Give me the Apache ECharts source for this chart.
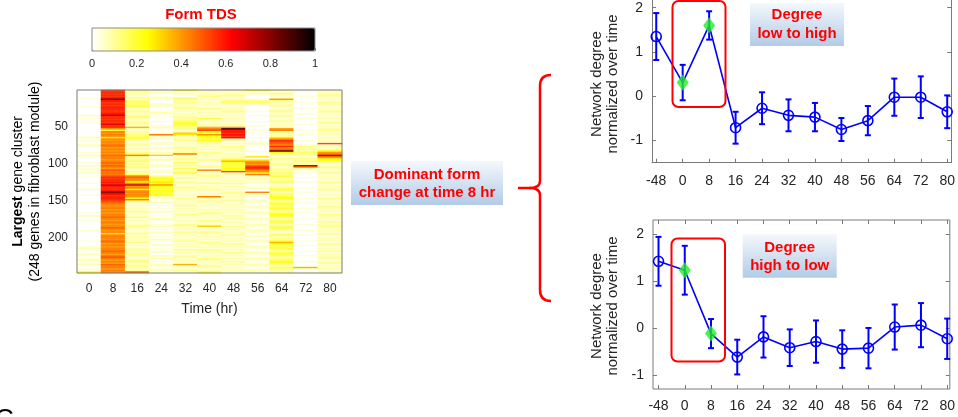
<!DOCTYPE html>
<html>
<head>
<meta charset="utf-8">
<script src="https://cdn.jsdelivr.net/npm/echarts@6/dist/echarts.min.js"></script>
<style>
html, body { margin: 0; padding: 0; background: #fff; }
#chart { width: 958px; height: 417px; }
</style>
</head>
<body>
<div id="chart"></div>
<script>
// ---------- form TDS heatmap ----------
const heatTimes = ['0', '8', '16', '24', '32', '40', '48', '56', '64', '72', '80'];
// one string per time point; each letter covers two genes, 'a' = 0 ... 'z' = 1 (steps of 0.04)
const tdsT0 = ['aaaaabaaaa','abaaaaacab','aabaaaaaaa','abcabaacba','aabacbaaab','acabbacaba','aaabaaacaa','abaaaabaaa','aaabacaaba','aaaaabaaaa','aabaaabcab','acbabcabca','abbg'];
const tdsT8 = ['ooooopwpoo','oopoooqroo','ooorookflk','lkhlklkmlk','lklkmllklm','lmlknlmlno','ooporpoopu','qooponmlkl','lklkllmlkl','lklmlklhll','lkmlklkllm','lklnlklkml','lkll'];
const tdsT16 = ['cdbcbdcdec','fecbdcbdec','bcdcbjcbdc','defecbcdbc','cbdeldcdec','dcecbdcelm','lkglrklgkl','klkgldcbcb','cbdcbcdbcb','bcdbcbcdbc','cbcdbcbcdb','cdbcbdebcd','cbdm'];
const tdsT24 = ['bcbabcbaab','cbaabcbaba','abaabcbaab','lbcbabcbac','bacbiabcba','bcbabcbadf','gfhgkgfegf','fgcbabcaba','bacbabacba','abcabacbab','acbabcabac','bacbcabacb','abcb'];
const tdsT32 = ['fbcbadecdc','bcdbcbcbdc','deffecdbci','hcbcdbcbcd','bcdlcbdcbe','cdbecdfcbd','cbdcbcdbcb','bcbdbcbcdb','cbcbdbcbcb','bdcbcbdbcb','cbdbcbcbdb','cbcdbcbcjb','cbdb'];
const tdsT40 = ['bcbcdbcbcb','cbdcbcbcbf','bcbcbjlngf','kgfegcdbcb','cbdcbcbdcb','bcdblcbcdb','cbcdbcbdcb','cblcbdcbcb','bcbdcbcbdc','bcibcbdcbc','bcbdcbcbdc','cbcbdcbcbd','cbcf'];
const tdsT48 = ['bcbdcbcdeb','cbcbdcbcbc','bcbcbkwppo','popbcbcbdc','bcbcbcdgjf','fefgfnbcbc','bcbdbcbcbd','cbcbcdbcbc','bcbcbdbcbc','cbdbcbcbdb','cbcbdbcbcb','dbcbcbdbcb','cbcb'];
const tdsT56 = ['fbcbaabdec','baaabaabaa','abaabaabab','aabaabcbaa','abaabhagkl','kmpolkglbc','cbcbabcbal','bcbabcbabc','babcbabcba','bcbabcbabc','abcbabcbab','cbabcbabcb','abcb'];
const tdsT64 = ['cbdcbckdcb','dcbcdcbdcb','cdbcbcklcd','cdhlonmlol','mwgdcbdcbc','dcbcdcedfd','cdecbcdfec','defgdcefde','fdcegfdcef','dcefdcbdec','dcfjgdefdc','efdcdegfdc','edcd'];
const tdsT72 = ['abaabaaaba','aabaaabaab','aaabaaabaa','baaabaabdc','dcedcbdcec','dskcbabaab','aabaaabaab','aaabaabaaa','baabaaabaa','abaaabaaba','aabaabaaab','aabaaabaab','jbab'];
const tdsT80 = ['bcbdcbcbdc','cbcbdcbcbc','bcdbcbcdbc','cbcbcbnbcb','cgklsmhgfc','bcdcbcdbcb','cbdcbcbdcb','bcbdcbcbcd','cbcbdcbcbd','bcdcbcbdcb','cbcbdcbcbd','bcbdcbcdbc','bcbc'];
const tdsColumns = [tdsT0, tdsT8, tdsT16, tdsT24, tdsT32, tdsT40, tdsT48, tdsT56, tdsT64, tdsT72, tdsT80];
const geneCount = 248;
const colorbarTicks = [0, 0.2, 0.4, 0.6, 0.8, 1];

// ---------- network degree curves ----------
const degreeTimes = ['-48', '0', '8', '16', '24', '32', '40', '48', '56', '64', '72', '80'];
const lowHighMean = [1.35, 0.31, 1.60, -0.71, -0.27, -0.43, -0.47, -0.75, -0.55, -0.02, -0.02, -0.35];
const lowHighErr  = [0.53, 0.40, 0.32, 0.36, 0.36, 0.36, 0.32, 0.26, 0.33, 0.42, 0.47, 0.37];
const highLowMean = [1.42, 1.23, -0.12, -0.62, -0.19, -0.42, -0.29, -0.45, -0.43, 0.02, 0.06, -0.23];
const highLowErr  = [0.52, 0.52, 0.31, 0.37, 0.44, 0.39, 0.45, 0.40, 0.43, 0.48, 0.47, 0.43];
const highlightIdx = [1, 2];
const degreeTicks = [-1, 0, 1, 2];

// ---------- build series data ----------
const geneRows = [];
for (let r = 1; r <= geneCount; r++) geneRows.push(String(r));
const heatData = [];
tdsColumns.forEach((chunks, c) => {
  const s = chunks.join('');
  for (let i = 0; i < s.length; i++) {
    const v = (s.charCodeAt(i) - 97) / 25;
    heatData.push([c, 2 * i, v]);
    heatData.push([c, 2 * i + 1, v]);
  }
});
const degreeIdx = degreeTimes.map((_, i) => i);

const FONT = '"Liberation Sans", Arial, sans-serif';
const INK = '#262626';
const FRAME = '#7a7a7a';
const BLUE = '#0000ff';
const RED = '#ff0000';

function errorBarItem(params, api) {
  const x = api.value(0);
  const lo = api.coord([x, api.value(1)]);
  const hi = api.coord([x, api.value(2)]);
  const w = 3;
  const st = { stroke: BLUE, lineWidth: 2 };
  return {
    type: 'group',
    children: [
      { type: 'line', shape: { x1: hi[0], y1: hi[1], x2: lo[0], y2: lo[1] }, style: st },
      { type: 'line', shape: { x1: hi[0] - w, y1: hi[1], x2: hi[0] + w, y2: hi[1] }, style: st },
      { type: 'line', shape: { x1: lo[0] - w, y1: lo[1], x2: lo[0] + w, y2: lo[1] }, style: st }
    ]
  };
}

function degreeSeries(mean, err, axisIdx) {
  return [
    {
      type: 'custom', xAxisIndex: axisIdx, yAxisIndex: axisIdx, z: 2, silent: true,
      renderItem: errorBarItem, encode: { x: 0, y: [1, 2] },
      data: mean.map((v, i) => [i, v - err[i], v + err[i]])
    },
    {
      type: 'line', xAxisIndex: axisIdx, yAxisIndex: axisIdx, z: 3, silent: true,
      symbol: 'circle', symbolSize: 10,
      lineStyle: { color: BLUE, width: 1.6 },
      itemStyle: { color: 'rgba(0,0,0,0)', borderColor: BLUE, borderWidth: 1.6 },
      data: mean.map((v, i) => highlightIdx.includes(i) ? { value: [i, v], symbol: 'none' } : [i, v])
    },
    {
      type: 'scatter', xAxisIndex: axisIdx, yAxisIndex: axisIdx, z: 4, silent: true,
      symbol: 'diamond', symbolSize: [12, 16],
      itemStyle: { color: '#22ee22' },
      data: highlightIdx.map(i => [i, mean[i]])
    }
  ];
}

function degreeXAxes(grid, min, max, margin, drawLine) {
  return [
    {
      gridIndex: grid, type: 'value', min: min, max: max,
      axisLine: { show: drawLine, onZero: false, lineStyle: { color: FRAME } }, splitLine: { show: false },
      axisTick: { inside: true, length: 4, customValues: degreeIdx, lineStyle: { color: FRAME } },
      axisLabel: { customValues: degreeIdx, formatter: v => degreeTimes[Math.round(v)], fontSize: 14, color: INK, margin: margin, fontFamily: FONT }
    },
    {
      gridIndex: grid, type: 'value', position: 'top', min: min, max: max,
      axisLine: { show: false, onZero: false }, splitLine: { show: false },
      axisTick: { show: !drawLine, inside: true, length: 4, customValues: degreeIdx, lineStyle: { color: FRAME } },
      axisLabel: { show: false }
    }
  ];
}

function degreeYAxes(grid, min, max, drawLine) {
  return [
    {
      gridIndex: grid, type: 'value', min: min, max: max,
      axisLine: { show: drawLine, onZero: false, lineStyle: { color: FRAME } }, splitLine: { show: false },
      axisTick: { inside: true, length: 4, customValues: degreeTicks, lineStyle: { color: FRAME } },
      axisLabel: { customValues: degreeTicks, fontSize: 14, color: INK, margin: 9, fontFamily: FONT }
    },
    {
      gridIndex: grid, type: 'value', position: 'right', min: min, max: max,
      axisLine: { show: drawLine, onZero: false, lineStyle: { color: FRAME } }, splitLine: { show: false },
      axisTick: { inside: true, length: 4, customValues: degreeTicks, lineStyle: { color: FRAME } },
      axisLabel: { show: false }
    }
  ];
}

const every50 = i => (i + 1) % 50 === 0;

function noteBox(x, y, w, h, text, cx, cy) {
  return [
    {
      type: 'rect', z: 100, shape: { x: x, y: y, width: w, height: h },
      style: {
        fill: new echarts.graphic.LinearGradient(0, 0, 0, 1, [
          { offset: 0, color: '#f4f8fc' },
          { offset: 1, color: '#b3cbe6' }
        ])
      }
    },
    {
      type: 'text', z: 101, x: cx, y: cy,
      style: { text: text, fill: RED, fontSize: 15, fontWeight: 'bold', fontFamily: FONT, align: 'center', verticalAlign: 'middle', lineHeight: 18.5 }
    }
  ];
}

// red curly bracket pointing at the middle note
const braceStyle = { stroke: RED, lineWidth: 2.5, fill: null };
function braceCurve(x1, y1, cx, cy, x2, y2) {
  return { type: 'bezierCurve', z: 100, shape: { x1: x1, y1: y1, cpx1: cx, cpy1: cy, x2: x2, y2: y2 }, style: braceStyle };
}
function braceLine(x1, y1, x2, y2) {
  return { type: 'line', z: 100, shape: { x1: x1, y1: y1, x2: x2, y2: y2 }, style: braceStyle };
}

const chart = echarts.init(document.getElementById('chart'), null, { renderer: 'canvas' });
chart.setOption({
  animation: false,
  backgroundColor: '#ffffff',
  textStyle: { fontFamily: FONT },
  grid: [
    { left: 92, top: 28, width: 223, height: 23, show: true, borderColor: '#8c8c8c', borderWidth: 1, backgroundColor: 'rgba(0,0,0,0)', z: 6 },
    { left: 77, top: 90, width: 265, height: 183, show: true, borderColor: FRAME, borderWidth: 1, backgroundColor: 'rgba(0,0,0,0)', z: 3 },
    // upper chart: its top edge runs off the page, so only three sides are framed
    { left: 652, top: 0, width: 300, height: 162.7, show: false },
    { left: 653, top: 220, width: 298, height: 169, show: true, borderColor: FRAME, borderWidth: 1 }
  ],
  visualMap: {
    type: 'continuous', seriesIndex: 0, min: 0, max: 1, orient: 'horizontal',
    left: 92, top: 28, itemWidth: 23, itemHeight: 223, padding: 0,
    calculable: false, hoverLink: false, realtime: false,
    inRange: { color: ['#ffffff', '#ffff80', '#ffff00', '#ffaa00', '#ff5500', '#ff0000', '#aa0000', '#550000', '#000000'] }
  },
  xAxis: [
    {
      gridIndex: 0, type: 'value', min: 0, max: 1,
      axisLine: { show: false, onZero: false }, splitLine: { show: false },
      axisTick: { inside: true, length: 3, customValues: colorbarTicks, lineStyle: { color: '#777' } },
      axisLabel: { customValues: colorbarTicks, fontSize: 11, color: INK, margin: 7 }
    },
    {
      gridIndex: 1, type: 'category', data: heatTimes,
      axisLine: { show: false },
      axisTick: { alignWithLabel: true, inside: true, length: 3, lineStyle: { color: FRAME } },
      axisLabel: { fontSize: 12, color: INK, margin: 10 },
      name: 'Time (hr)', nameLocation: 'middle', nameGap: 29,
      nameTextStyle: { fontSize: 14, color: INK, fontFamily: FONT }
    },
    {
      gridIndex: 1, type: 'category', data: heatTimes, position: 'top',
      axisLine: { show: false },
      axisTick: { alignWithLabel: true, inside: true, length: 3, lineStyle: { color: FRAME } },
      axisLabel: { show: false }
    },
    ...degreeXAxes(2, -0.16, 11.15, 11, true),
    ...degreeXAxes(3, -0.21, 11.1, 10, false)
  ],
  yAxis: [
    { gridIndex: 0, type: 'value', min: 0, max: 1, show: false },
    {
      gridIndex: 1, type: 'category', data: geneRows, inverse: true,
      axisLine: { show: false },
      axisTick: { alignWithLabel: true, inside: true, length: 3, interval: every50, lineStyle: { color: FRAME } },
      axisLabel: { interval: every50, fontSize: 12, color: INK, margin: 9 }
    },
    {
      gridIndex: 1, type: 'category', data: geneRows, inverse: true, position: 'right',
      axisLine: { show: false },
      axisTick: { alignWithLabel: true, inside: true, length: 3, interval: every50, lineStyle: { color: FRAME } },
      axisLabel: { show: false }
    },
    ...degreeYAxes(2, -1.5, 2.175, true),
    ...degreeYAxes(3, -1.3, 2.3, false)
  ],
  series: [
    {
      type: 'heatmap', xAxisIndex: 1, yAxisIndex: 1, data: heatData,
      progressive: 0, silent: true, itemStyle: { borderWidth: 0 }
    },
    ...degreeSeries(lowHighMean, lowHighErr, 3),
    ...degreeSeries(highLowMean, highLowErr, 5)
  ],
  graphic: [
    // colorbar title
    { type: 'text', z: 100, x: 201, y: 15, style: { text: 'Form TDS', fill: RED, fontSize: 15, fontWeight: 'bold', fontFamily: FONT, align: 'center', verticalAlign: 'middle' } },
    // heatmap y label
    { type: 'text', z: 100, x: 18.5, y: 181.5, rotation: Math.PI / 2,
      style: { text: '{b|Largest} gene cluster', rich: { b: { fontWeight: 'bold', fontSize: 14, fontFamily: FONT, fill: '#000' } }, fill: '#000', fontSize: 14, fontFamily: FONT, align: 'center', verticalAlign: 'middle' } },
    { type: 'text', z: 100, x: 35.5, y: 181.5, rotation: Math.PI / 2,
      style: { text: '(248 genes in fibroblast module)', fill: '#000', fontSize: 14, fontFamily: FONT, align: 'center', verticalAlign: 'middle' } },
    // middle note
    ...noteBox(351, 161, 152, 44, 'Dominant form\nchange at time 8 hr', 427, 184),
    // curly bracket
    braceCurve(551, 75, 540, 75, 540, 86),
    braceLine(540, 86, 540, 181),
    braceCurve(540, 181, 540, 188, 529, 188),
    braceLine(529, 188, 518, 188),
    braceCurve(529, 188, 540, 188, 540, 195),
    braceLine(540, 195, 540, 290),
    braceCurve(540, 290, 540, 301, 551, 301),
    // upper degree chart notes
    { type: 'rect', z: 100, shape: { x: 672.5, y: 1, width: 53, height: 106, r: 6 }, style: { stroke: RED, lineWidth: 2, fill: null } },
    ...noteBox(750, 3, 94, 43, 'Degree\nlow to high', 797, 24.5),
    { type: 'text', z: 100, x: 605, y: 84, rotation: Math.PI / 2,
      style: { text: 'Network degree\nnormalized over time', fill: INK, fontSize: 15, fontFamily: FONT, align: 'center', verticalAlign: 'middle', lineHeight: 16.6 } },
    // lower degree chart notes
    { type: 'rect', z: 100, shape: { x: 671.5, y: 238.5, width: 53.5, height: 123, r: 6 }, style: { stroke: RED, lineWidth: 2, fill: null } },
    ...noteBox(742.7, 234, 94, 43.7, 'Degree\nhigh to low', 789.7, 257),
    { type: 'text', z: 100, x: 605, y: 306, rotation: Math.PI / 2,
      style: { text: 'Network degree\nnormalized over time', fill: INK, fontSize: 15, fontFamily: FONT, align: 'center', verticalAlign: 'middle', lineHeight: 16.6 } },
    // panel letter
    { type: 'text', z: 100, x: -5, y: 407, style: { text: 'C', fill: '#000', fontSize: 26, fontFamily: FONT, verticalAlign: 'top' } }
  ]
});
</script>
</body>
</html>
